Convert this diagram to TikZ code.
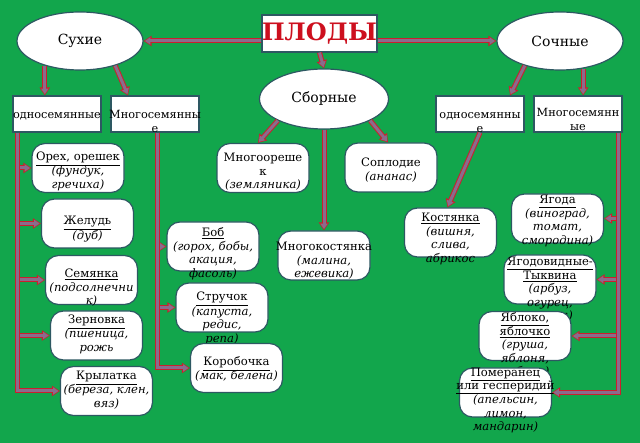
\documentclass[tikz,border=0pt]{standalone}
\usepackage{fontspec}
\setmainfont{DejaVu Serif}
\usepackage{xcolor}
\usetikzlibrary{positioning,arrows.meta,shapes.geometric,calc}
\definecolor{bggreen}{RGB}{18,166,76}
\definecolor{edgeblue}{RGB}{45,88,98}
\definecolor{arrowfill}{RGB}{138,108,140}
\definecolor{arrowred}{RGB}{205,30,45}
\definecolor{titlered}{RGB}{205,15,30}
\newcommand{\boxtext}[2][7pt]{\raisebox{#1}[0pt][0pt]{\makebox[0pt]{\begin{tabular}[t]{@{}c@{}}#2\end{tabular}}}}
\tikzset{
headbox/.style={
draw=edgeblue,
line width=1.2pt,
fill=white,
minimum width=111pt,
minimum height=37pt,
inner sep=0pt,
text=titlered,
font=\fontsize{24}{26}\selectfont\bfseries
},
ovalnode/.style={
ellipse,
draw=edgeblue,
line width=1.2pt,
fill=white,
minimum width=126pt,
minimum height=58pt,
inner sep=0pt,
font=\fontsize{14}{16}\selectfont
},
typebox/.style={
draw=edgeblue,
line width=1.2pt,
fill=white,
minimum width=88pt,
minimum height=36pt,
inner sep=0pt,
font=\fontsize{11.3}{13.5}\selectfont
},
fruit/.style={
draw=edgeblue,
line width=1.2pt,
fill=white,
rounded corners=13pt,
minimum width=92pt,
minimum height=49pt,
inner sep=0pt,
font=\fontsize{11.6}{13.5}\selectfont
},
arrow/.style={
draw=arrowfill,
line width=3pt,
-{Triangle[length=5.5pt,width=7pt]},
shorten >=1.3pt,
preaction={draw=arrowred,line width=5pt,shorten >=0pt,-{Triangle[length=8pt,width=10pt]}}
}
}
\begin{document}
\begin{tikzpicture}[x=1pt,y=-1pt]
\fill[bggreen](0,0)rectangle(640,443);

\node[headbox](plody)at(319.5,33.5){ПЛОДЫ};
\node[ovalnode](sukhie)at(80,41){Сухие};
\node[ovalnode](sochnye)at(560,41){Сочные};
\node[ovalnode,minimum width=129pt,minimum height=60pt](sbornye)at(324,99){Сборные};

\node[typebox](odn1)at(57,114){\boxtext[-5pt]{односемянные}};
\node[typebox](mnog1)at(155,114){\boxtext[-5pt]{Многосемянны\\е}};
\node[typebox](odn2)at(480,114){\boxtext[-5pt]{односемянны\\е}};
\node[typebox](mnog2)at(578,114){\boxtext[-3pt]{Многосемянн\\ые}};

% dry fruits
\node[fruit](oreh)at(78,168){\boxtext[7pt]{\underline{Орех, орешек}\\\textit{(фундук,}\\\textit{гречиха)}}};
\node[fruit](zhelud)at(87.5,223.5){\boxtext[-1.5pt]{\underline{Желудь}\\\textit{(дуб)}}};
\node[fruit](semyanka)at(91.5,280){\boxtext[2pt]{\underline{Семянка}\\\textit{(подсолнечни}\\\textit{к)}}};
\node[fruit](zernovka)at(96.5,335.5){\boxtext[11.5pt]{\underline{Зерновка}\\\textit{(пшеница,}\\\textit{рожь}}};
\node[fruit](krylatka)at(106.5,391){\boxtext[11pt]{\underline{Крылатка}\\\textit{(береза, клен,}\\\textit{вяз)}}};
\node[fruit](bob)at(213,246.5){\boxtext[9.5pt]{\underline{Боб}\\\textit{(горох, бобы,}\\\textit{акация,}\\\textit{фасоль)}}};
\node[fruit](struchok)at(222,307.5){\boxtext[6.5pt]{\underline{Стручок}\\\textit{(капуста,}\\\textit{редис,}\\\textit{репа)}}};
\node[fruit](korobochka)at(236.5,368){\boxtext[2pt]{\underline{Коробочка}\\\textit{(мак, белена)}}};

% aggregate fruits
\node[fruit](mnogoor)at(263,168){\boxtext[6pt]{Многоореше\\к\\\textit{(земляника)}}};
\node[fruit](soplodie)at(391,167.5){\boxtext[0.5pt]{Соплодие\\\textit{(ананас)}}};
\node[fruit](mnogokost)at(324,255.5){\boxtext[4.5pt]{Многокостянка\\\textit{(малина,}\\\textit{ежевика)}}};

% fleshy fruits
\node[fruit](kostyanka)at(450.5,232.5){\boxtext[10.5pt]{\underline{Костянка}\\\textit{(вишня,}\\\textit{слива,}\\\textit{абрикос}}};
\node[fruit](yagoda)at(557.5,218.5){\boxtext[14.5pt]{\underline{Ягода}\\\textit{(виноград,}\\\textit{томат,}\\\textit{смородина)}}};
\node[fruit](tykvina)at(550,279.5){\boxtext[13.5pt]{\underline{Ягодовидные-}\\\underline{Тыквина}\\\textit{(арбуз,}\\\textit{огурец,}\\\textit{тыква)}}};
\node[fruit](yabloko)at(525,336){\boxtext[14pt]{\underline{Яблоко,}\\\underline{яблочко}\\\textit{(груша,}\\\textit{яблоня,}\\\textit{рябина)}}};
\node[fruit](pomeranets)at(505.5,392.5){\boxtext[16.5pt]{\underline{Померанец}\\\underline{или гесперидий}\\\textit{(апельсин,}\\\textit{лимон,}\\\textit{мандарин)}}};

\draw[arrow](plody.west|-sukhie.east)--(sukhie.east);
\draw[arrow](plody.east|-sochnye.west)--(sochnye.west);
\draw[arrow](plody.south)--(sbornye.north);
\draw[arrow](sukhie.215)--(sukhie.215|-odn1.north);
\draw[arrow](sukhie.325)--([xshift=-27pt]mnog1.north);
\draw[arrow](sochnye.215)--([xshift=30pt]odn2.north);
\draw[arrow](sochnye.310)--(sochnye.310|-mnog2.north);
\draw[arrow](sbornye.205)--([xshift=-5pt]mnogoor.north);
\draw[arrow](sbornye.335)--([xshift=-3pt]soplodie.north);
\draw[arrow](sbornye.south)--(mnogokost.north);
\draw[arrow](odn2.south)--([xshift=-3pt]kostyanka.north);

\coordinate(trunkL)at([xshift=-40pt]odn1.south);
\coordinate(trunkM)at([xshift=2pt]mnog1.south);
\coordinate(trunkR)at([xshift=40pt]mnog2.south);
\foreach \n in {oreh,zhelud,semyanka,zernovka}
\draw[arrow](\n.west-|trunkL)--(\n.west);
\foreach \n in {bob,struchok}
\draw[arrow](\n.west-|trunkM)--(\n.west);
\foreach \n in {yagoda,tykvina,yabloko}
\draw[arrow](\n.east-|trunkR)--(\n.east);
\draw[arrow](trunkL)|-(krylatka.west);
\draw[arrow](trunkM)|-(korobochka.west);
\draw[arrow](trunkR)|-(pomeranets.east);
\end{tikzpicture}
\end{document}
